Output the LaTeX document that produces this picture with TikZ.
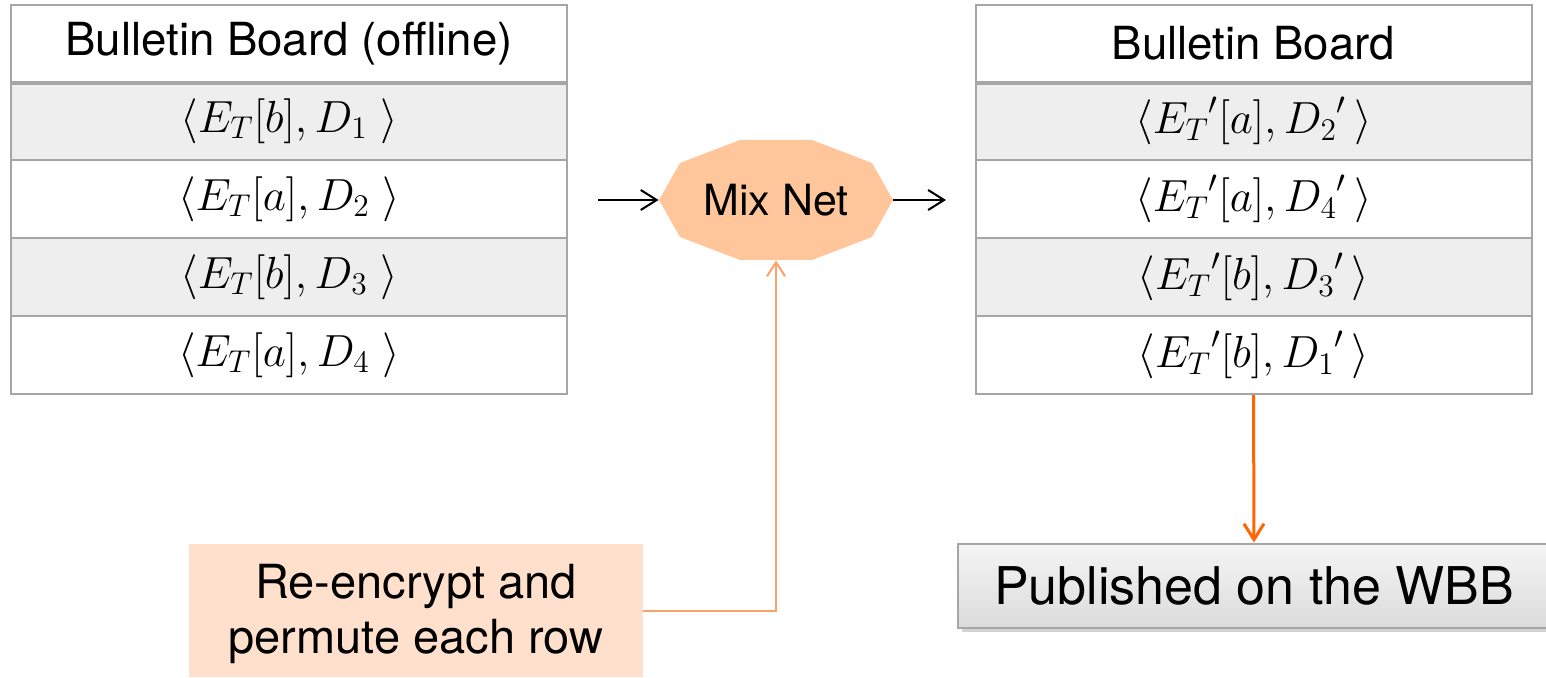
\RequirePackage{fix-cm}
\documentclass[tikz,border=0pt]{standalone}
\usepackage{fontspec}
\setmainfont{TeX Gyre Heros}
\usetikzlibrary{arrows.meta,shadows}
\definecolor{gridgray}{HTML}{A6A6A6}
\definecolor{rowgray}{HTML}{EEEEEE}
\definecolor{mixfill}{HTML}{FFC59B}
\definecolor{notefill}{HTML}{FFE0CC}
\definecolor{lightor}{HTML}{F8A26C}
\definecolor{darkor}{HTML}{FF6600}
\tikzset{
  cell/.style={draw=gridgray, line width=1pt, inner sep=0pt, minimum width=278pt,
    minimum height=39pt, font=\fontsize{22.5}{27}\selectfont},
  shaded/.style={cell, fill=rowgray},
  headcell/.style={cell, minimum height=38.5pt, font=\fontsize{22.8}{27}\selectfont},
  flow/.style={line width=1pt, -{Straight Barb[length=8pt,width=10pt,line width=1pt]}},
  feed/.style={line width=1pt, draw=lightor, -{Straight Barb[length=7pt,width=9pt,line width=1pt]}},
  publish/.style={line width=1.5pt, draw=darkor, -{Straight Barb[length=8pt,width=10pt,line width=1.5pt]}},
}
\begin{document}
\begin{tikzpicture}[x=0.5pt, y=-0.5pt]
\useasboundingbox (0,0) rectangle (1546,678);

% offline bulletin board
\node[headcell] (lh) at (289,43.5) {Bulletin Board (offline)};
\node[shaded] (l1) at (289,121) {$\langle E_T[b], D_1\ \rangle$};
\node[cell]   (l2) at (289,199) {$\langle E_T[a], D_2\ \rangle$};
\node[shaded] (l3) at (289,277) {$\langle E_T[b], D_3\ \rangle$};
\node[cell]   (l4) at (289,355) {$\langle E_T[a], D_4\ \rangle$};
\draw[gridgray, line width=1.8pt] (lh.south west) -- (lh.south east);

% public bulletin board
\node[headcell] (rh) at (1253.5,43.5) {Bulletin Board};
\node[shaded] (r1) at (1253.5,121) {$\langle {E_T}'[a], {D_2}'\,\rangle$};
\node[cell]   (r2) at (1253.5,199) {$\langle {E_T}'[a], {D_4}'\,\rangle$};
\node[shaded] (r3) at (1253.5,277) {$\langle {E_T}'[b], {D_3}'\,\rangle$};
\node[cell]   (r4) at (1253.5,355) {$\langle {E_T}'[b], {D_1}'\,\rangle$};
\draw[gridgray, line width=1.8pt] (rh.south west) -- (rh.south east);

% mix net
\fill[mixfill] (659,200) -- (680,163) -- (740,140) -- (812,140) -- (872,163) -- (893,200)
  -- (872,237) -- (812,260) -- (740,260) -- (680,237) -- cycle;
\node[inner sep=0pt, minimum width=117pt, minimum height=60pt,
  font=\fontsize{21.5}{26}\selectfont] (mix) at (776,200) {Mix Net};

\coordinate (inL) at (598,200);
\coordinate (outR) at (946,200);
\draw[flow] (inL) -- (mix.west);
\draw[flow] (mix.east) -- (outR);

% re-encryption note
\node[fill=notefill, inner sep=0pt, minimum width=227pt, minimum height=66.5pt] (note) at (416,610.5) {};
\node[align=center, inner sep=0pt, font=\fontsize{23.5}{27.5}\selectfont] (notetext) at (416,614)
  {Re-encrypt and\\permute each row};
\draw[feed] (note.east) -| (mix.south);

% publication
\node[draw=gridgray, line width=1pt, top color=gray!8, bottom color=gray!28,
  drop shadow={shadow xshift=2pt, shadow yshift=-2pt, opacity=0.35},
  inner sep=0pt, minimum width=296pt, minimum height=42pt,
  font=\fontsize{26}{30}\selectfont] (wbb) at (1254,585.5) {Published on the WBB};
\draw[publish] (r4.south) -- (wbb.north);
\end{tikzpicture}
\end{document}
